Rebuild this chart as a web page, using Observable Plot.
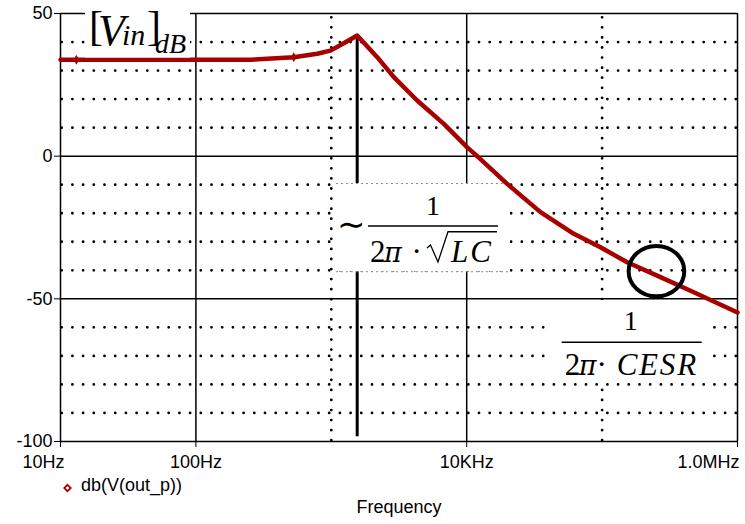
<!DOCTYPE html>
<html><head><meta charset="utf-8">
<script src="https://cdn.jsdelivr.net/npm/d3@7"></script>
<script src="https://cdn.jsdelivr.net/npm/@observablehq/plot@0.6"></script>
<style>body{margin:0;background:#fff}</style>
</head><body><div id="chart"></div>
<script>
// ---- data ----
const freqHz = [10, 30, 100, 253, 528, 787, 986, 1236, 1553, 2183, 2897, 4307, 6776, 10090, 11950, 19900, 35080, 61810, 97250, 153100, 269900, 475700, 1000000];
const gainDb = [33.8, 33.8, 33.8, 33.8, 34.7, 35.9, 37.0, 39.6, 42.3, 34.7, 27.7, 19.5, 11.3, 3.1, 0, -9.7, -19.6, -27.2, -31.9, -37.2, -42.4, -47.7, -54.8];
const markerFreq = [13.1, 528];
const markerDb = [33.8, 34.7];
const yTicks = [50, 0, -50, -100];
const xTicks = [10, 100, 10000, 1000000];
const xTickLabels = ["10Hz", "100Hz", "10KHz", "1.0MHz"];
const solidGridY = [50, 0, -50, -100];
const dottedGridY = [40, 30, 20, 10, -10, -20, -30, -40, -60, -70, -80, -90];
const solidGridX = [10, 100, 10000, 1000000];
const dottedGridX = [1000, 100000];
const seriesName = "db(V(out_p))";
const xTitle = "Frequency";
// annotations (data coordinates)
const peakLine = [{freq: 1553, db1: 42.3, db2: -98.3}];
const esrCircle = [{freq: 252000, db: -40.3}];
const lcBox = [{f1: 1092, f2: 21050, db1: -9.6, db2: -40.5}];
const esrBox = [{f1: 43000, f2: 653000, db1: -50.6, db2: -79.2}];
const vinBox = [{f1: 15.3, f2: 91.3, db1: 34.4, db2: 54.6}];
const lcNote = {freq: 5685, db: -24.66};
const esrNote = {freq: 166700, db: -65.4};
const vinNote = {freq: 16.66, db: 38.8};

const RED = "#a80000";
const curve = freqHz.map((f, i) => ({f, db: gainDb[i]}));
const markers = markerFreq.map((f, i) => ({f, db: markerDb[i]}));
const labelOf = d => xTickLabels[xTicks.indexOf(d)];

const ellipse = {
  draw(ctx, size) {
    const r = Math.sqrt(size / Math.PI), rx = r * 1.05, ry = r * 0.95, k = 0.5523;
    ctx.moveTo(rx, 0);
    ctx.bezierCurveTo(rx, ry * k, rx * k, ry, 0, ry);
    ctx.bezierCurveTo(-rx * k, ry, -rx, ry * k, -rx, 0);
    ctx.bezierCurveTo(-rx, -ry * k, -rx * k, -ry, 0, -ry);
    ctx.bezierCurveTo(rx * k, -ry, rx, -ry * k, rx, 0);
    ctx.closePath();
  }
};

const plot = Plot.plot({
  width: 745, height: 524,
  marginLeft: 60, marginRight: 8, marginTop: 13, marginBottom: 83,
  style: {fontFamily: "'Liberation Sans', Arial, sans-serif", fontSize: "18px", background: "white", color: "black"},
  x: {type: "log", domain: [10, 1000000], label: null},
  y: {domain: [-100, 50], label: null},
  marks: [
    Plot.ruleY(dottedGridY, {stroke: "black", strokeWidth: 2.8, strokeDasharray: "0,10.7", strokeDashoffset: -1.7, strokeLinecap: "round"}),
    Plot.ruleX(dottedGridX, {stroke: "black", strokeWidth: 2.8, strokeDasharray: "0,10.07", strokeDashoffset: -4.3, strokeLinecap: "round"}),
    Plot.ruleY(solidGridY, {stroke: "black", strokeWidth: 1.5}),
    Plot.ruleX(solidGridX, {stroke: "black", strokeWidth: 1.5}),
    Plot.axisY({ticks: yTicks, tickSize: 6, tickPadding: 2, tickFormat: d => String(d), label: null}),
    Plot.axisX({ticks: xTicks, tickSize: 6, tickFormat: () => "", label: null}),
    Plot.text([100, 10000], {x: d => d, text: labelOf, frameAnchor: "bottom", dy: 26}),
    Plot.text([10], {x: d => d, text: labelOf, frameAnchor: "bottom", dy: 26, dx: -17}),
    Plot.text([1000000], {x: d => d, text: labelOf, frameAnchor: "bottom", dy: 26, dx: -29}),
    Plot.text([xTitle], {frameAnchor: "bottom", dy: 71}),
    Plot.dot([seriesName], {frameAnchor: "bottom-left", dx: 7, dy: 46.5, symbol: "diamond2", r: 2.9, stroke: RED, strokeWidth: 1.8, fill: "none"}),
    Plot.text([seriesName], {frameAnchor: "bottom-left", textAnchor: "start", dx: 20.5, dy: 49.7}),
    Plot.ruleX(peakLine, {x: "freq", y1: "db1", y2: "db2", stroke: "black", strokeWidth: 3}),
    Plot.rect(lcBox, {x1: "f1", x2: "f2", y1: "db1", y2: "db2", fill: "white"}),
    Plot.ruleY(lcBox, {y: "db1", x1: "f1", x2: "f2", stroke: "#888", strokeWidth: 1, strokeDasharray: "2,3"}),
    Plot.ruleY(lcBox, {y: "db2", x1: "f1", x2: "f2", stroke: "#888", strokeWidth: 1, strokeDasharray: "2,3"}),
    Plot.rect(esrBox, {x1: "f1", x2: "f2", y1: "db1", y2: "db2", fill: "white"}),
    Plot.line(curve, {x: "f", y: "db", stroke: RED, strokeWidth: 4.5, strokeLinejoin: "round"}),
    Plot.dot(markers, {x: "f", y: "db", symbol: "diamond", r: 3, fill: RED}),
    Plot.rect(vinBox, {x1: "f1", x2: "f2", y1: "db1", y2: "db2", fill: "white"}),
    Plot.dot(esrCircle, {x: "freq", y: "db", symbol: ellipse, r: 26.5, stroke: "black", strokeWidth: 4, fill: "none"})
  ]
});
document.getElementById("chart").appendChild(plot);

// formula annotations positioned through the plot's scales
const sx = plot.scale("x"), sy = plot.scale("y");
const svg = d3.select(plot);
const g = svg.append("g").attr("font-family", "'Liberation Serif', 'Times New Roman', serif").attr("fill", "black");
function txt(x, y, s, size, italic, anchor, spacing, family) {
  const t = g.append("text").attr("x", x).attr("y", y).attr("font-size", size)
    .attr("font-style", italic ? "italic" : "normal").attr("text-anchor", anchor || "start")
    .attr("letter-spacing", spacing || 0).text(s);
  if (family) t.attr("font-family", family);
}
function seg(pts, w) {
  g.append("path").attr("d", d3.line()(pts)).attr("fill", "none").attr("stroke", "black").attr("stroke-width", w);
}
const PI_FONT = "'DejaVu Serif', serif";
// ~ 1 / (2π·√LC)
{
  const cx = sx.apply(lcNote.freq), cy = sy.apply(lcNote.db);
  seg([[cx - 65, cy], [cx + 65, cy]], 1.4);
  txt(cx, cy - 11, "1", 28, false, "middle");
  txt(cx - 82, cy + 10, "\u223C", 34, false, "middle");
  txt(cx - 63, cy + 35.7, "2", 31, false);
  txt(cx - 49, cy + 35.7, "\u03C0", 27, true, "start", 0, PI_FONT);
  txt(cx - 16.3, cy + 35.7, "\u00B7", 31, false, "middle");
  seg([[cx - 6, cy + 22], [cx - 2.5, cy + 19], [cx + 5, cy + 36], [cx + 15, cy + 5.7], [cx + 64, cy + 5.7]], 1.3);
  txt(cx + 18, cy + 35.7, "LC", 31, true, "start", 2);
}
// 1 / (2π·CESR)
{
  const cx = sx.apply(esrNote.freq), cy = sy.apply(esrNote.db);
  seg([[cx - 70, cy], [cx + 70, cy]], 1.4);
  txt(cx - 1, cy - 12.3, "1", 28, false, "middle");
  txt(cx - 67, cy + 32.7, "2", 31, false);
  txt(cx - 53, cy + 32.7, "\u03C0", 27, true, "start", 0, PI_FONT);
  txt(cx - 30, cy + 32.7, "\u00B7", 31, false, "middle");
  txt(cx - 15, cy + 32.7, "CESR", 31, true, "start", 1.8);
}
// [V_in]_dB
{
  const ax = sx.apply(vinNote.freq), ay = sy.apply(vinNote.db);
  txt(ax - 1, ay - 5, "[", 42, false);
  txt(ax + 8, ay, "V", 44, true);
  txt(ax + 32, ay, "in", 30, true);
  txt(ax + 57, ay - 5, "]", 42, false);
  txt(ax + 65, ay + 8.3, "dB", 28, true);
}
</script></body></html>
